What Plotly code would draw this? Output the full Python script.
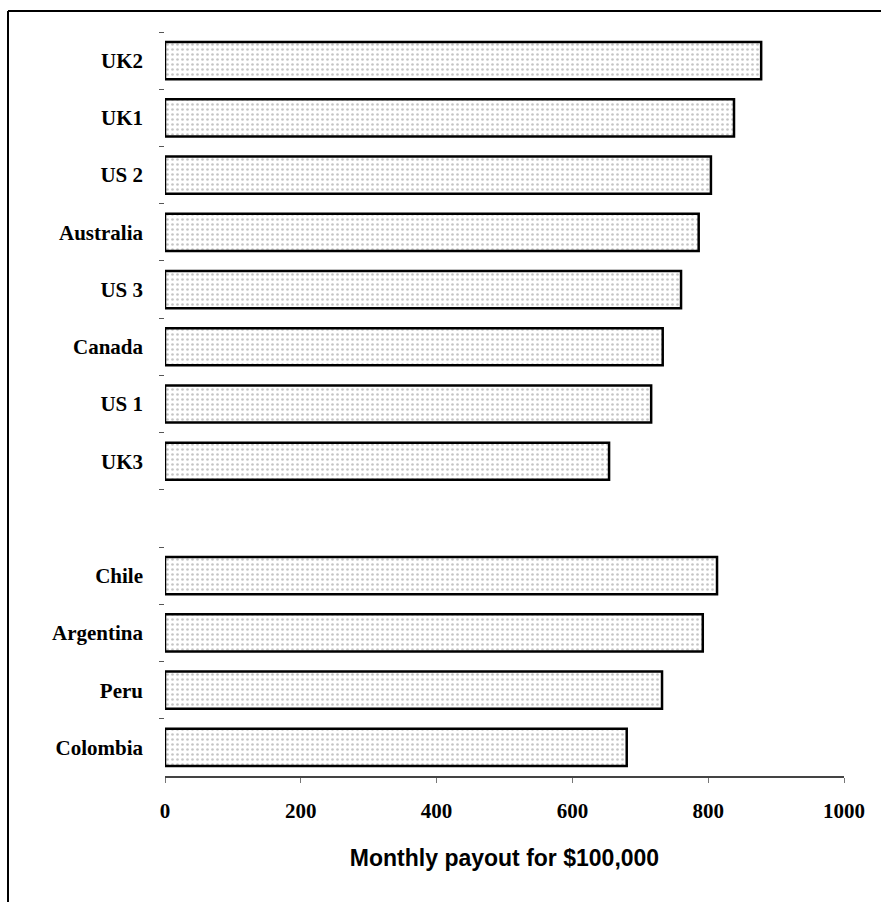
import plotly.graph_objects as go

# Monthly annuity payout per $100,000 premium, by market
countries = ["UK2", "UK1", "US 2", "Australia", "US 3", "Canada", "US 1", "UK3",
             " ", "Chile", "Argentina", "Peru", "Colombia"]
payouts = [878, 838, 804, 786, 760, 733, 716, 654,
           None, 813, 792, 732, 680]
x_ticks = [0, 200, 400, 600, 800, 1000]

W, H = 881, 902
ML, MR, MT, MB = 165, 37, 32, 126
plot_w = W - ML - MR
plot_h = H - MT - MB

fig = go.Figure()
fig.add_trace(go.Bar(
    y=countries,
    x=payouts,
    orientation="h",
    width=0.65,
    marker=dict(
        color="white",
        line=dict(color="black", width=2.5),
        pattern=dict(shape=".", fgcolor="#8c8c8c", bgcolor="white",
                     size=5, solidity=0.22),
    ),
    hoverinfo="x+y",
))

# frame around the chart (top and left edges)
def px_to_paper_x(px):
    return (px - ML) / plot_w

def px_to_paper_y(py):
    return (H - MB - py) / plot_h

frame = dict(type="line", xref="paper", yref="paper",
             line=dict(color="black", width=2))
fig.add_shape(**frame, x0=px_to_paper_x(8), x1=px_to_paper_x(W + 5),
              y0=px_to_paper_y(11), y1=px_to_paper_y(11))
fig.add_shape(**frame, x0=px_to_paper_x(8), x1=px_to_paper_x(8),
              y0=px_to_paper_y(11), y1=px_to_paper_y(H + 5))

fig.update_layout(
    width=W, height=H,
    margin=dict(l=ML, r=MR, t=MT, b=MB),
    paper_bgcolor="white",
    plot_bgcolor="white",
    showlegend=False,
    bargap=0.35,
)
fig.update_xaxes(
    range=[0, 1000],
    tickvals=x_ticks,
    ticktext=[str(v) for v in x_ticks],
    showgrid=False,
    zeroline=False,
    showline=True,
    linecolor="#444",
    linewidth=1.5,
    ticks="outside",
    ticklen=5,
    tickwidth=1,
    tickcolor="#777",
    ticklabelstandoff=10,
    tickfont=dict(family="Liberation Serif", size=21, color="black", weight="bold"),
    title=dict(
        text="Monthly payout for $100,000",
        font=dict(family="Liberation Sans", size=23, color="black", weight="bold"),
        standoff=28,
    ),
)
fig.update_yaxes(
    type="category",
    categoryorder="array",
    categoryarray=countries,
    autorange="reversed",
    showgrid=False,
    zeroline=False,
    showline=False,
    ticks="outside",
    tickson="boundaries",
    ticklen=5,
    tickwidth=1,
    tickcolor="#555",
    ticklabelstandoff=21,
    tickfont=dict(family="Liberation Serif", size=21, color="black", weight="bold"),
)

fig.write_html("out.html")
